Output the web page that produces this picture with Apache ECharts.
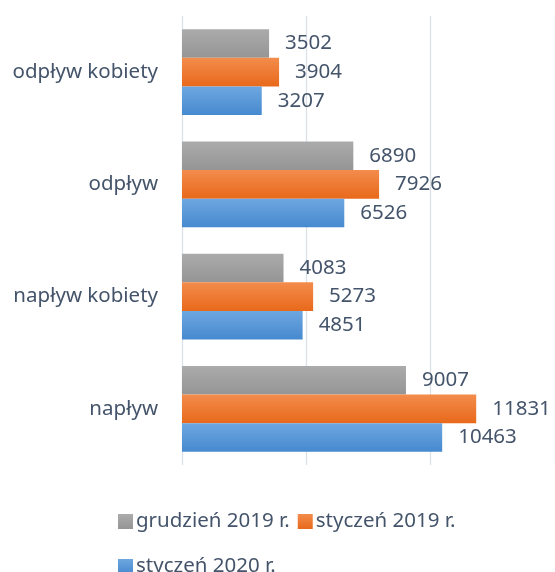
<!DOCTYPE html>
<html>
<head>
<meta charset="utf-8">
<script src="https://cdn.jsdelivr.net/npm/echarts@6/dist/echarts.min.js"></script>
<style>html,body{margin:0;padding:0;background:#fff;}#c{width:555px;height:572px;}</style>
</head>
<body>
<div id="c"></div>
<script>
const categories = ['napływ', 'napływ kobiety', 'odpływ', 'odpływ kobiety'];
const seriesNames = ['grudzień 2019 r.', 'styczeń 2019 r.', 'styczeń 2020 r.'];
const grudzien2019 = [9007, 4083, 6890, 3502];
const styczen2019 = [11831, 5273, 7926, 3904];
const styczen2020 = [10463, 4851, 6526, 3207];
const xTicks = [0, 5000, 10000, 15000];

const FONT = 'Noto Sans';
const FS = 20.5;
const TXT = '#44546A';
function grad(a, b) {
  return new echarts.graphic.LinearGradient(0, 0, 0, 1, [{offset: 0, color: a}, {offset: 1, color: b}]);
}
function mk(name, data, c1, c2) {
  return {
    name: name, type: 'bar', data: data,
    barGap: '0%', barCategoryGap: '23.4%',
    itemStyle: {color: grad(c1, c2)},
    label: {show: true, position: 'right', distance: 16, color: TXT, fontSize: FS, fontFamily: FONT},
    emphasis: {disabled: true}
  };
}
const legendText = {color: TXT, fontSize: FS, fontFamily: FONT, padding: [0, 0, 0, -2]};
const chart = echarts.init(document.getElementById('c'), null, {renderer: 'canvas'});
chart.setOption({
  animation: false,
  backgroundColor: '#fff',
  grid: {left: 182, top: 16, width: 374, height: 449, containLabel: false},
  xAxis: {
    type: 'value', min: xTicks[0], max: xTicks[xTicks.length - 1], interval: 5000,
    axisLabel: {show: false}, axisLine: {show: false}, axisTick: {show: false},
    splitLine: {show: true, lineStyle: {color: '#DCE1E8', width: 1.3}}
  },
  yAxis: {
    type: 'category', data: categories,
    axisLine: {show: false}, axisTick: {show: false},
    axisLabel: {color: TXT, fontSize: FS, fontFamily: FONT, margin: 24}
  },
  legend: [
    {data: [seriesNames[0], seriesNames[1]], left: 113, top: 506, itemWidth: 15, itemHeight: 15, itemGap: 8,
     icon: 'rect', textStyle: legendText},
    {data: [seriesNames[2]], left: 113, top: 551, itemWidth: 15, itemHeight: 15,
     icon: 'rect', textStyle: legendText}
  ],
  series: [
    mk(seriesNames[0], grudzien2019, '#ABABAB', '#959595'),
    mk(seriesNames[1], styczen2019, '#F38C4C', '#E8691B'),
    mk(seriesNames[2], styczen2020, '#6EA7E0', '#4689CF')
  ]
});
</script>
</body>
</html>
